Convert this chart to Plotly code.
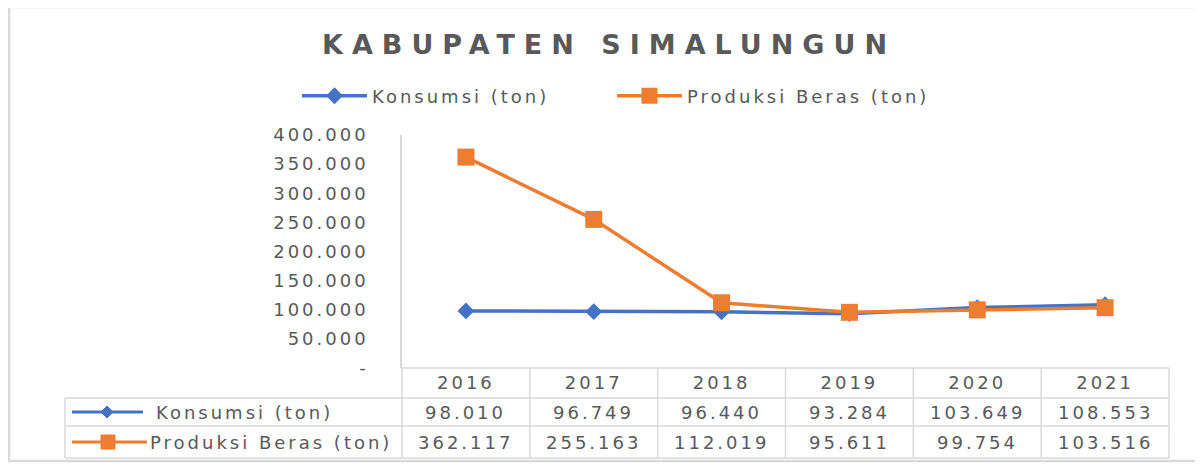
import plotly.graph_objects as go

# ---- data ----
years = ["2016", "2017", "2018", "2019", "2020", "2021"]
konsumsi = [98010, 96749, 96440, 93284, 103649, 108553]
produksi = [362117, 255163, 112019, 95611, 99754, 103516]
series_names = ["Konsumsi (ton)", "Produksi Beras (ton)"]
y_ticks = [0, 50000, 100000, 150000, 200000, 250000, 300000, 350000, 400000]
title_text = "KABUPATEN SIMALUNGUN"

# ---- style ----
PAGE_W, PAGE_H = 1203, 466
OFF = 8  # default page body margin
L, R, T, B = 402, 1169, 135, 368
BLUE = "#4472C4"
ORANGE = "#ED7D31"
TXT = "#595959"
GRID = "#D9D9D9"
FONT = "DejaVu Sans"
SP = 3  # letter spacing px


def fmt(v):
    return "-" if v == 0 else f"{v:,}".replace(",", ".")


def spaced(s, sp=SP):
    return f'<span style="letter-spacing:{sp}px">{s}</span>'


def px(x):
    return (x - L) / (R - L)


def py(y):
    return (B - y) / (B - T)


fig = go.Figure()
fig.add_trace(go.Scatter(
    x=years, y=konsumsi, name=spaced(series_names[0]), mode="lines+markers",
    line=dict(color=BLUE, width=3.5),
    marker=dict(symbol="diamond", size=13, color=BLUE),
))
fig.add_trace(go.Scatter(
    x=years, y=produksi, name=spaced(series_names[1]), mode="lines+markers",
    line=dict(color=ORANGE, width=3.5),
    marker=dict(symbol="square", size=17, color=ORANGE),
))

shapes = []
annotations = []

# outer frame
shapes.append(dict(type="rect", xref="paper", yref="paper",
                   x0=px(9), x1=px(1199), y0=py(461), y1=py(7),
                   line=dict(color=GRID, width=2.5), layer="below"))

# data table grid
row_tops = [368, 398, 426, 458]
col_edges = [L + i * (R - L) / len(years) for i in range(len(years) + 1)]
label_left = 65
shapes.append(dict(type="line", xref="paper", yref="paper", x0=px(L), x1=px(R),
                   y0=py(368), y1=py(368), line=dict(color=GRID, width=1.5)))
for yy in row_tops[1:]:
    shapes.append(dict(type="line", xref="paper", yref="paper", x0=px(label_left), x1=px(R),
                       y0=py(yy), y1=py(yy), line=dict(color=GRID, width=1.5)))
for xx in col_edges:
    shapes.append(dict(type="line", xref="paper", yref="paper", x0=px(xx), x1=px(xx),
                       y0=py(368), y1=py(row_tops[-1]), line=dict(color=GRID, width=1.5)))
shapes.append(dict(type="line", xref="paper", yref="paper", x0=px(label_left), x1=px(label_left),
                   y0=py(398), y1=py(row_tops[-1]), line=dict(color=GRID, width=1.5)))

# row values (positioned on the category axis)
row_centers = [412, 442]
for vals, yc in zip([konsumsi, produksi], row_centers):
    for i, v in enumerate(vals):
        annotations.append(dict(x=i, xref="x", y=py(yc), yref="paper", text=spaced(fmt(v)),
                                showarrow=False, xanchor="center", yanchor="middle",
                                font=dict(family=FONT, size=18, color=TXT)))

# row labels with legend keys
key_specs = [
    (BLUE, "diamond", 72, 143, 107, 154),
    (ORANGE, "square", 72, 147, 108, 148),
]
for (col, sym, kx0, kx1, mx, tx), name, yc in zip(key_specs, series_names, row_centers):
    shapes.append(dict(type="line", xref="paper", yref="paper", x0=px(kx0), x1=px(kx1),
                       y0=py(yc), y1=py(yc), line=dict(color=col, width=3)))
    if sym == "diamond":
        d = 6
        path = (f"M {px(mx - d)} {py(yc)} L {px(mx)} {py(yc - d)} "
                f"L {px(mx + d)} {py(yc)} L {px(mx)} {py(yc + d)} Z")
        shapes.append(dict(type="path", xref="paper", yref="paper", path=path,
                           fillcolor=col, line=dict(color=col, width=1)))
    else:
        d = 7
        shapes.append(dict(type="rect", xref="paper", yref="paper",
                           x0=px(mx - d), x1=px(mx + d), y0=py(yc + d), y1=py(yc - d),
                           fillcolor=col, line=dict(color=col, width=1)))
    annotations.append(dict(x=px(tx), xref="paper", y=py(yc), yref="paper", text=spaced(name),
                            showarrow=False, xanchor="left", yanchor="middle",
                            font=dict(family=FONT, size=18, color=TXT)))

# title
annotations.append(dict(x=px(609), xref="paper", y=py(45), yref="paper",
                        text=spaced(title_text, 9),
                        showarrow=False, xanchor="center", yanchor="middle",
                        font=dict(family=FONT, size=27, color=TXT, weight="bold")))

fig.update_layout(
    width=PAGE_W - OFF, height=PAGE_H - OFF, autosize=False,
    margin=dict(l=L - OFF, r=PAGE_W - R, t=T - OFF, b=PAGE_H - B, pad=0),
    paper_bgcolor="white", plot_bgcolor="white",
    separators=",.",
    font=dict(family=FONT, color=TXT),
    showlegend=True,
    legend=dict(orientation="h", x=px(612), xanchor="center", y=py(96), yanchor="middle",
                font=dict(family=FONT, size=18, color=TXT),
                itemwidth=65, entrywidth=235, entrywidthmode="pixels",
                bgcolor="rgba(0,0,0,0)"),
    xaxis=dict(type="category", range=[-0.5, len(years) - 0.5], showgrid=False,
               showline=False, zeroline=False, ticks="",
               tickvals=years, ticktext=[spaced(y) for y in years],
               ticklabelstandoff=2,
               tickfont=dict(family=FONT, size=18, color=TXT)),
    yaxis=dict(range=[0, 400000], tickvals=y_ticks, ticktext=[spaced(fmt(v)) for v in y_ticks],
               showgrid=False, zeroline=False, showline=True, linecolor=GRID, linewidth=1.5,
               ticks="", ticklabelstandoff=28,
               tickfont=dict(family=FONT, size=18, color=TXT)),
    shapes=shapes,
    annotations=annotations,
)

fig.write_html("out.html")
